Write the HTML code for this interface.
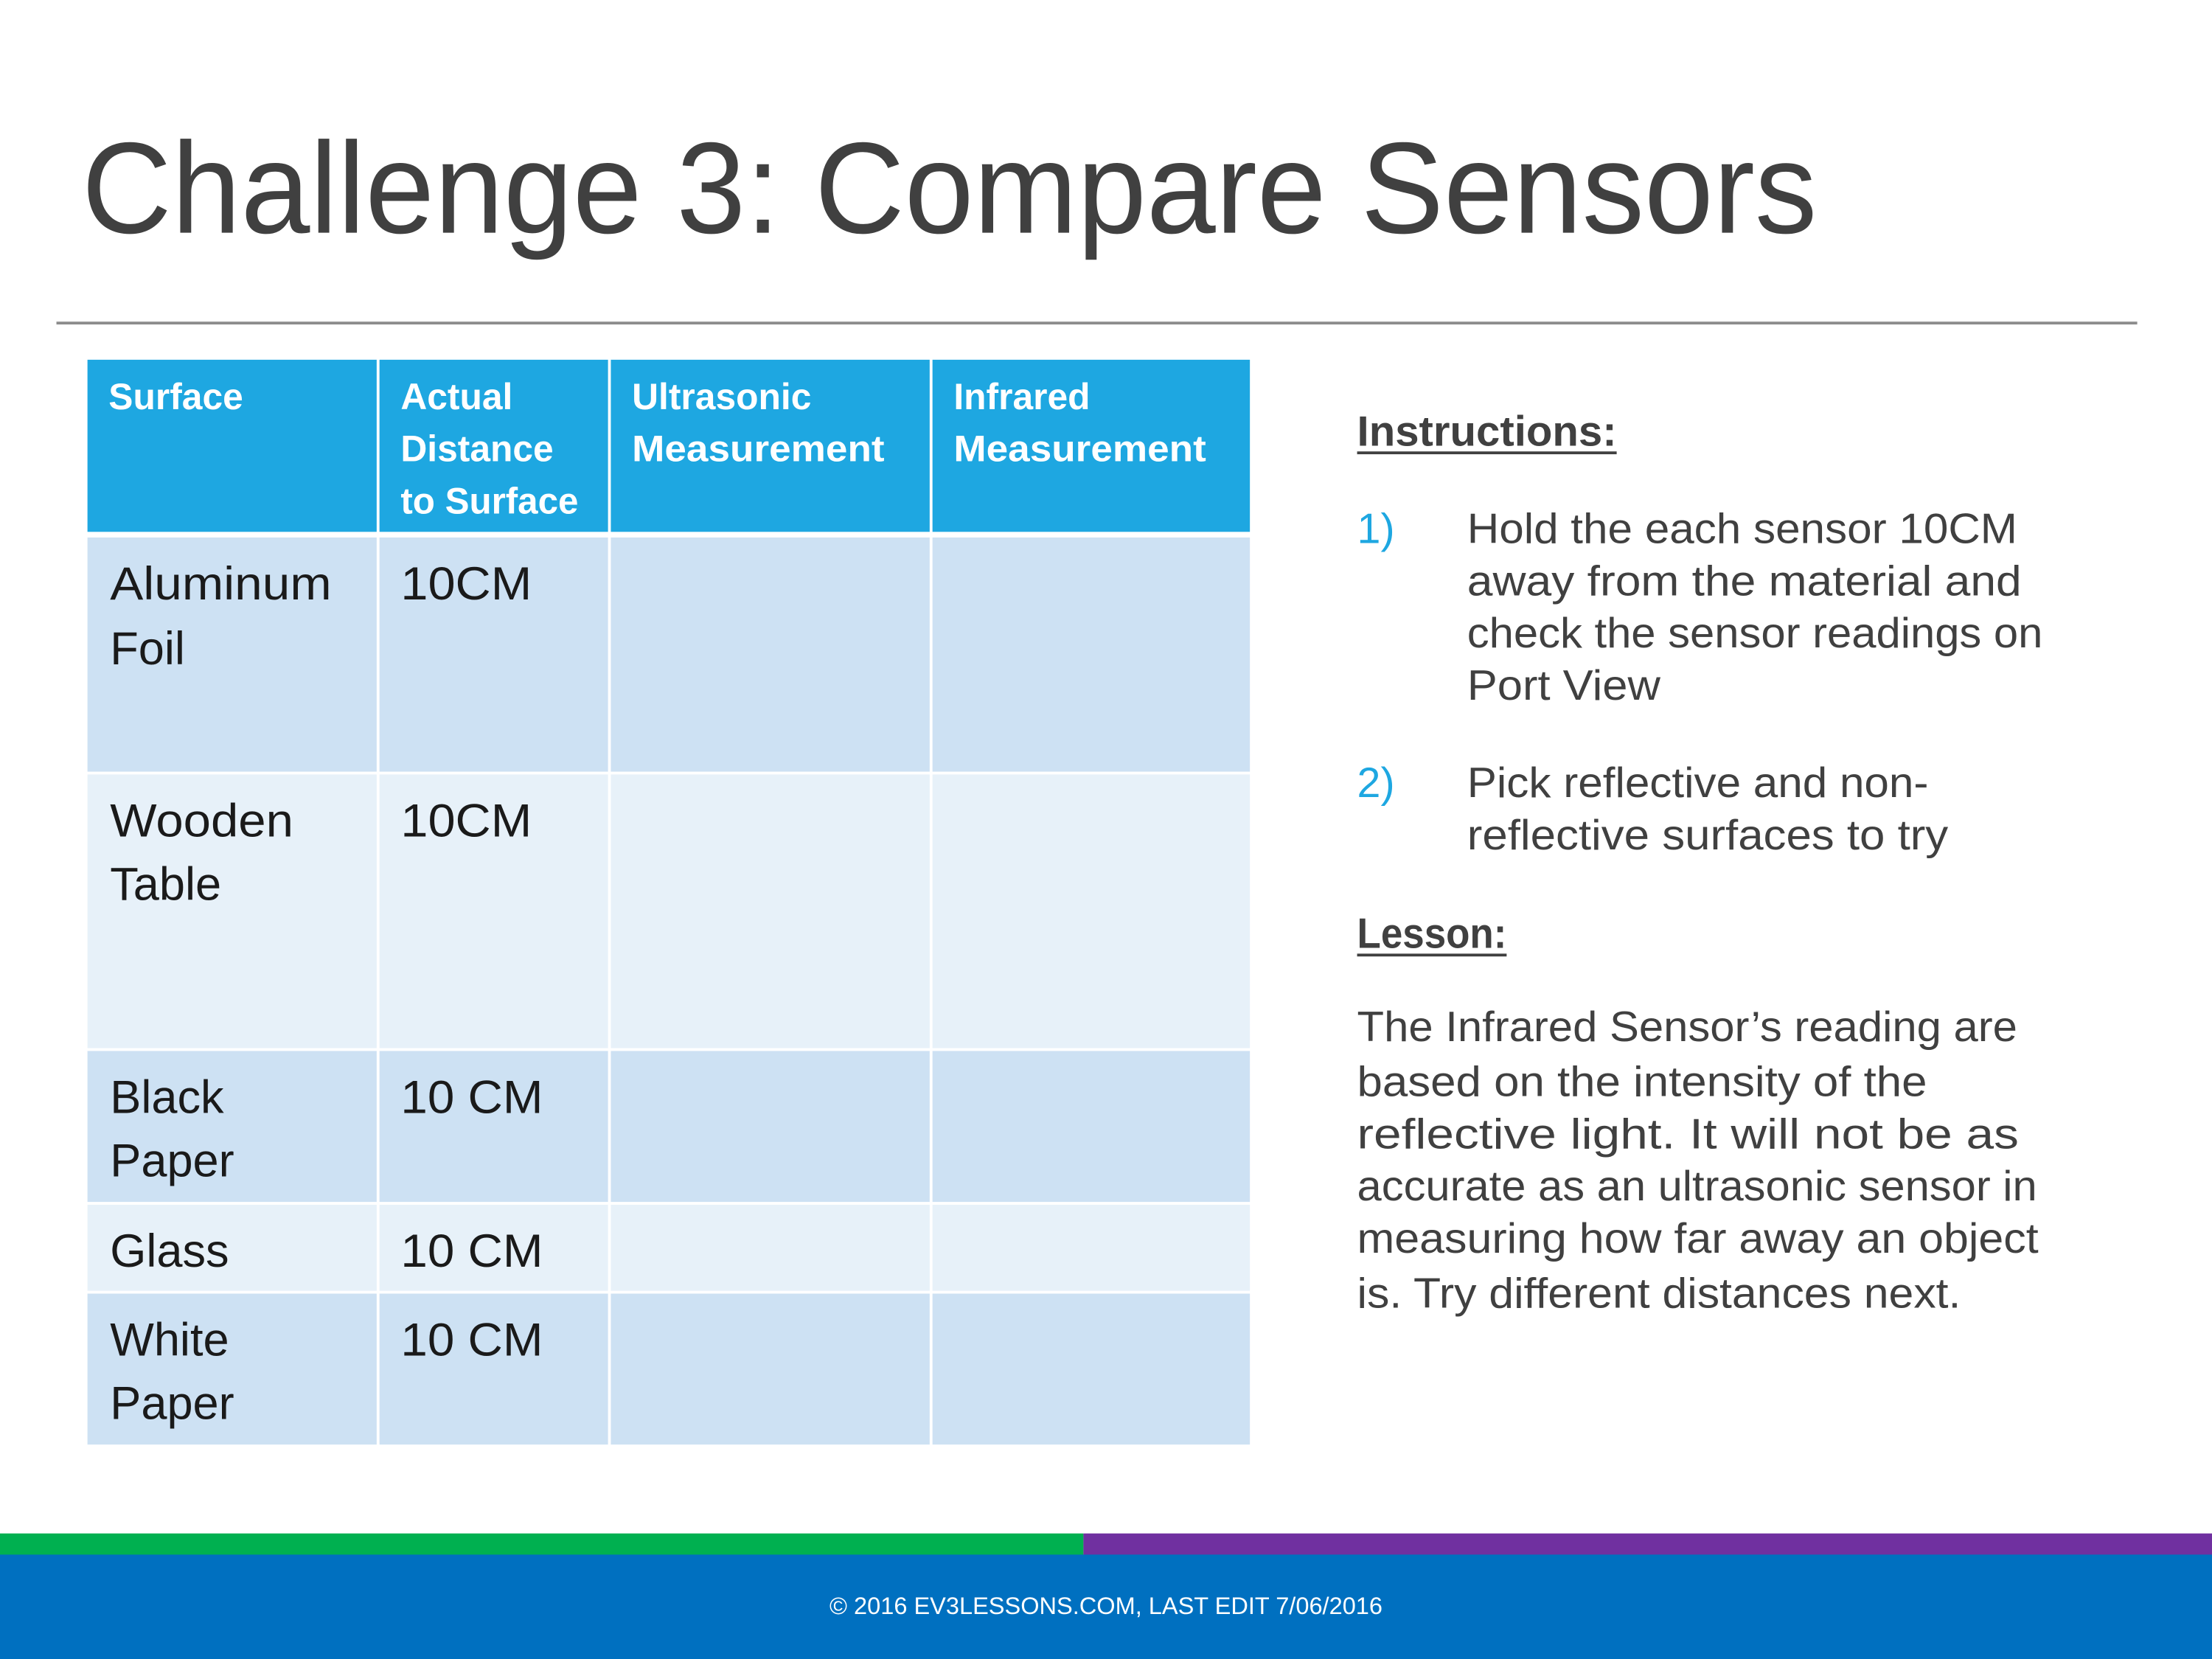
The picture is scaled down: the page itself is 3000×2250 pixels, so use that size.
<!DOCTYPE html>
<html><head><meta charset="utf-8"><style>html,body{margin:0;padding:0;background:#fff}svg{display:block}</style></head>
<body>
<svg width="3000" height="2250" viewBox="0 0 1568 1176" xmlns="http://www.w3.org/2000/svg" font-family="Liberation Sans, sans-serif">
<rect width="1568" height="1176" fill="#fff"/>
<text x="58" y="165" font-size="92" fill="#404040" textLength="1230" lengthAdjust="spacingAndGlyphs">Challenge 3: Compare Sensors</text>
<rect x="40" y="228" width="1475" height="2" fill="#8c8c8c"/>
<!-- table -->
<g>
<rect x="62" y="255" width="205" height="122" fill="#1ea7e1"/>
<rect x="269" y="255" width="162" height="122" fill="#1ea7e1"/>
<rect x="433" y="255" width="226" height="122" fill="#1ea7e1"/>
<rect x="661" y="255" width="225" height="122" fill="#1ea7e1"/>
<g fill="#cde1f3">
<rect x="62" y="381" width="205" height="166"/><rect x="269" y="381" width="162" height="166"/><rect x="433" y="381" width="226" height="166"/><rect x="661" y="381" width="225" height="166"/>
<rect x="62" y="745" width="205" height="107"/><rect x="269" y="745" width="162" height="107"/><rect x="433" y="745" width="226" height="107"/><rect x="661" y="745" width="225" height="107"/>
<rect x="62" y="917" width="205" height="107"/><rect x="269" y="917" width="162" height="107"/><rect x="433" y="917" width="226" height="107"/><rect x="661" y="917" width="225" height="107"/>
</g>
<g fill="#e7f1f9">
<rect x="62" y="549" width="205" height="194"/><rect x="269" y="549" width="162" height="194"/><rect x="433" y="549" width="226" height="194"/><rect x="661" y="549" width="225" height="194"/>
<rect x="62" y="854" width="205" height="61"/><rect x="269" y="854" width="162" height="61"/><rect x="433" y="854" width="226" height="61"/><rect x="661" y="854" width="225" height="61"/>
</g>
<g fill="#fff" font-size="26" font-weight="bold">
<text x="77" y="290">Surface</text>
<text x="284" y="290">Actual</text><text x="284" y="327">Distance</text><text x="284" y="364" textLength="126" lengthAdjust="spacingAndGlyphs">to Surface</text>
<text x="448" y="290">Ultrasonic</text><text x="448" y="327" textLength="179" lengthAdjust="spacingAndGlyphs">Measurement</text>
<text x="676" y="290">Infrared</text><text x="676" y="327" textLength="179" lengthAdjust="spacingAndGlyphs">Measurement</text>
</g>
<g fill="#1a1a1a" font-size="33">
<text x="78" y="425" textLength="157" lengthAdjust="spacingAndGlyphs">Aluminum</text><text x="78" y="471">Foil</text>
<text x="78" y="593" textLength="130" lengthAdjust="spacingAndGlyphs">Wooden</text><text x="78" y="638">Table</text>
<text x="78" y="789">Black</text><text x="78" y="834">Paper</text>
<text x="78" y="898">Glass</text>
<text x="78" y="961">White</text><text x="78" y="1006">Paper</text>
<text x="284" y="425" textLength="93" lengthAdjust="spacingAndGlyphs">10CM</text>
<text x="284" y="593" textLength="93" lengthAdjust="spacingAndGlyphs">10CM</text>
<text x="284" y="789" textLength="101" lengthAdjust="spacingAndGlyphs">10 CM</text>
<text x="284" y="898" textLength="101" lengthAdjust="spacingAndGlyphs">10 CM</text>
<text x="284" y="961" textLength="101" lengthAdjust="spacingAndGlyphs">10 CM</text>
</g>
</g>
<!-- right side -->
<g font-size="30" fill="#404040">
<text x="962" y="316" font-weight="bold" textLength="184" lengthAdjust="spacingAndGlyphs">Instructions:</text>
<rect x="962" y="320" width="184" height="2"/>
<text x="962" y="385" fill="#1ea7e1">1)</text>
<text x="1040" y="385" textLength="390" lengthAdjust="spacingAndGlyphs">Hold the each sensor 10CM</text>
<text x="1040" y="422" textLength="393" lengthAdjust="spacingAndGlyphs">away from the material and</text>
<text x="1040" y="459" textLength="408" lengthAdjust="spacingAndGlyphs">check the sensor readings on</text>
<text x="1040" y="496" textLength="137" lengthAdjust="spacingAndGlyphs">Port View</text>
<text x="962" y="565" fill="#1ea7e1">2)</text>
<text x="1040" y="565" textLength="327" lengthAdjust="spacingAndGlyphs">Pick reflective and non-</text>
<text x="1040" y="602" textLength="341" lengthAdjust="spacingAndGlyphs">reflective surfaces to try</text>
<text x="962" y="672" font-weight="bold" textLength="106" lengthAdjust="spacingAndGlyphs">Lesson:</text>
<rect x="962" y="676" width="106" height="2"/>
<text x="962" y="738" textLength="468" lengthAdjust="spacingAndGlyphs">The Infrared Sensor’s reading are</text>
<text x="962" y="777" textLength="404" lengthAdjust="spacingAndGlyphs">based on the intensity of the</text>
<text x="962" y="814" textLength="469" lengthAdjust="spacingAndGlyphs">reflective light.  It will not be as</text>
<text x="962" y="851" textLength="482" lengthAdjust="spacingAndGlyphs">accurate as an ultrasonic sensor in</text>
<text x="962" y="888" textLength="483" lengthAdjust="spacingAndGlyphs">measuring how far away an object</text>
<text x="962" y="927" textLength="428" lengthAdjust="spacingAndGlyphs">is. Try different distances next.</text>
</g>
<!-- footer -->
<rect x="0" y="1087" width="768" height="16" fill="#00b050"/>
<rect x="768" y="1087" width="800" height="16" fill="#7030a0"/>
<rect x="0" y="1102" width="1568" height="74" fill="#0070c0"/>
<text x="784" y="1144" font-size="17" fill="#fff" text-anchor="middle" textLength="392" lengthAdjust="spacingAndGlyphs">© 2016 EV3LESSONS.COM, LAST EDIT 7/06/2016</text>
</svg>
</body></html>
